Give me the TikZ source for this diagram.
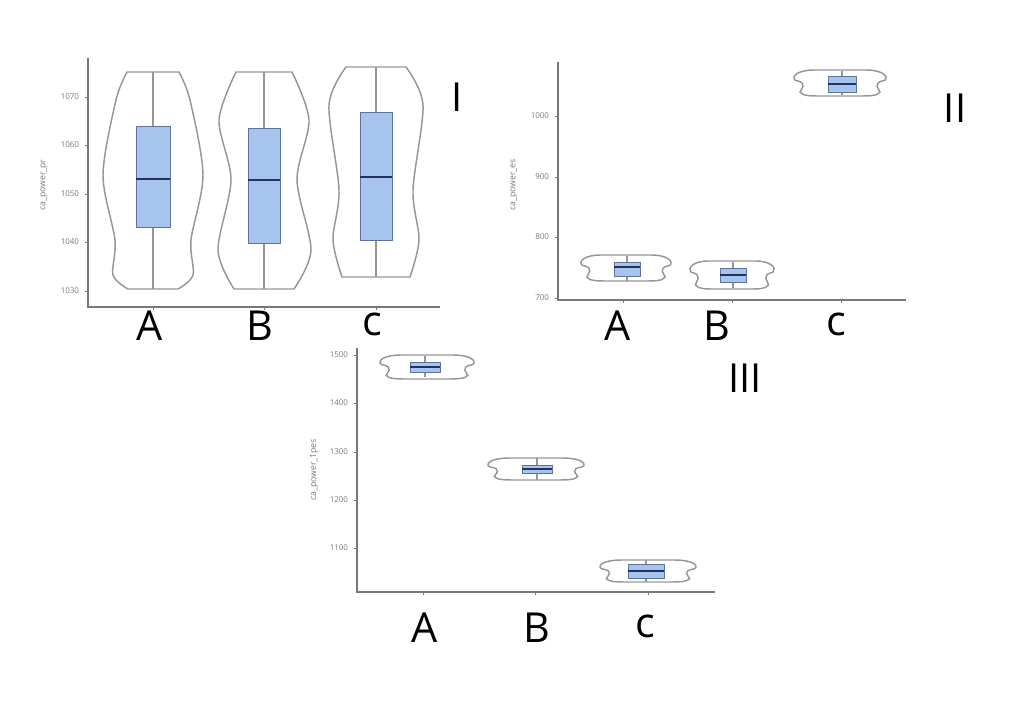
\documentclass[tikz,border=0pt]{standalone}
\usepackage{fontspec}
\setmainfont{Open Sans}
\setsansfont{Open Sans}
\definecolor{violet0}{RGB}{150,150,150}
\definecolor{boxfill}{RGB}{166,196,238}
\definecolor{boxline}{RGB}{95,115,150}
\definecolor{medline}{RGB}{35,50,95}
\definecolor{axisgray}{RGB}{120,120,120}
\tikzset{every picture/.style={line width=0.75pt}}
\tikzset{
  violin/.style={draw=violet0,line width=1.1pt},
  axisline/.style={draw=axisgray,line width=1pt},
  ticklab/.style={font=\fontsize{6}{6}\selectfont,text=axisgray,anchor=east},
  grouplab/.style={font=\fontsize{31}{31}\selectfont},
  panellab/.style={font=\fontsize{30}{30}\selectfont},
  ylab/.style={font=\fontsize{6.5}{6.5}\selectfont,text=axisgray,rotate=90}
}
% box: x, whisker low, whisker high, q1, q3, median, half width
\newcommand{\bwbox}[7]{%
  \draw[violet0,line width=1pt] (#1,#2) -- (#1,#3);
  \draw[fill=boxfill,draw=boxline] (#1-#7,#4) rectangle (#1+#7,#5);
  \draw[medline,line width=1.6pt] (#1-#7,#6) -- (#1+#7,#6);}
% flat violin: centre x, centre y, half width, half height
\newcommand{\flatviolin}[4]{%
  \draw[violin,shift={(#1,#2)}] (-0.55*#3,-#4) -- (0.55*#3,-#4)
    .. controls (0.9*#3,-#4) and (1.05*#3,-0.5*#4) .. (0.95*#3,-0.2*#4)
    .. controls (0.65*#3,0) and (0.85*#3,0.5*#4) .. (0.85*#3,0.7*#4)
    .. controls (0.8*#3,#4) and (0.6*#3,#4) .. (0.4*#3,#4)
    -- (-0.4*#3,#4)
    .. controls (-0.6*#3,#4) and (-0.8*#3,#4) .. (-0.85*#3,0.7*#4)
    .. controls (-0.85*#3,0.5*#4) and (-0.65*#3,0) .. (-0.95*#3,-0.2*#4)
    .. controls (-1.05*#3,-0.5*#4) and (-0.9*#3,-#4) .. (-0.55*#3,-#4) -- cycle;}

\begin{document}
\begin{tikzpicture}[x=0.75pt,y=0.75pt,yscale=-1,xscale=1]
\useasboundingbox (0,0) rectangle (1024,701);

%Panel I
\draw[axisline] (88,58) -- (88,307) -- (440,307);
\foreach \v/\y in {1070/97,1060/145,1050/194,1040/242,1030/291}{
  \draw[axisgray] (85,\y) -- (88,\y);
  \node[ticklab] at (84,\y) {\v};}
\foreach \x in {153,264,376} \draw[axisgray] (\x,307) -- (\x,310);
\node[ylab] (ylI) at (44,185) {ca\_power\_pr};
\draw[violin] plot[smooth] coordinates {(179,72)(190,100)(203,175)(191,240)(193,275)(178,289)}
  -- plot[smooth] coordinates {(128,289)(113,275)(115,240)(103,175)(116,100)(127,72)} -- cycle;
\draw[violin] plot[smooth] coordinates {(292,72)(309,120)(297,180)(311,250)(294,289)}
  -- plot[smooth] coordinates {(234,289)(218,250)(231,180)(219,120)(236,72)} -- cycle;
\draw[violin] plot[smooth] coordinates {(406,67)(423,105)(413,190)(419,240)(410,277)}
  -- plot[smooth] coordinates {(342,277)(333,240)(339,190)(329,105)(346,67)} -- cycle;
\bwbox{153}{72}{289}{227}{126}{179}{17}
\bwbox{264}{72}{289}{243}{128}{180}{16}
\bwbox{376}{67}{277}{240}{112}{177}{16}
\node[grouplab] (aI) at (150,326) {A};
\node[grouplab] (bI) at (260,326) {B};
\node[grouplab] (cI) at (372,324) {c};
\node[panellab] (pI) at (457,97) {I};

%Panel II
\draw[axisline] (558,62) -- (558,300) -- (906,300);
\foreach \v/\y in {1000/116,900/177,800/237,700/298}{
  \draw[axisgray] (555,\y) -- (558,\y);
  \node[ticklab] at (554,\y) {\v};}
\foreach \x in {623,732,841} \draw[axisgray] (\x,300) -- (\x,303);
\node[ylab] (ylII) at (514,185) {ca\_power\_es};
\flatviolin{626}{268}{46}{13}
\flatviolin{732}{275}{43}{14}
\flatviolin{840}{83}{47}{13}
\bwbox{627}{256}{281}{276}{262}{267}{13}
\bwbox{733}{262}{288}{282}{268}{275}{13}
\bwbox{842}{71}{95}{92}{76}{84}{14}
\node[grouplab] (aII) at (618,326) {A};
\node[grouplab] (bII) at (717,326) {B};
\node[grouplab] (cII) at (836,324) {c};
\node[panellab] (pII) at (955,108) {II};

%Panel III
\draw[axisline] (357,348) -- (357,592) -- (715,592);
\foreach \v/\y in {1500/355,1400/403,1300/452,1200/500,1100/548}{
  \draw[axisgray] (354,\y) -- (357,\y);
  \node[ticklab] at (353,\y) {\v};}
\foreach \x in {423,535,648} \draw[axisgray] (\x,592) -- (\x,595);
\node[ylab] (ylIII) at (314,470) {ca\_power\_1pes};
\flatviolin{427}{367}{48}{12}
\flatviolin{536}{469}{49}{11}
\flatviolin{648}{571}{49}{11}
\bwbox{425}{356}{377}{372}{362}{367}{15}
\bwbox{537}{458}{480}{473}{465}{469}{15}
\bwbox{646}{560}{582}{578}{564}{571}{18}
\node[grouplab] (aIII) at (425,628) {A};
\node[grouplab] (bIII) at (537,628) {B};
\node[grouplab] (cIII) at (645,626) {c};
\node[panellab] (pIII) at (745,378) {III};
\end{tikzpicture}
\end{document}
